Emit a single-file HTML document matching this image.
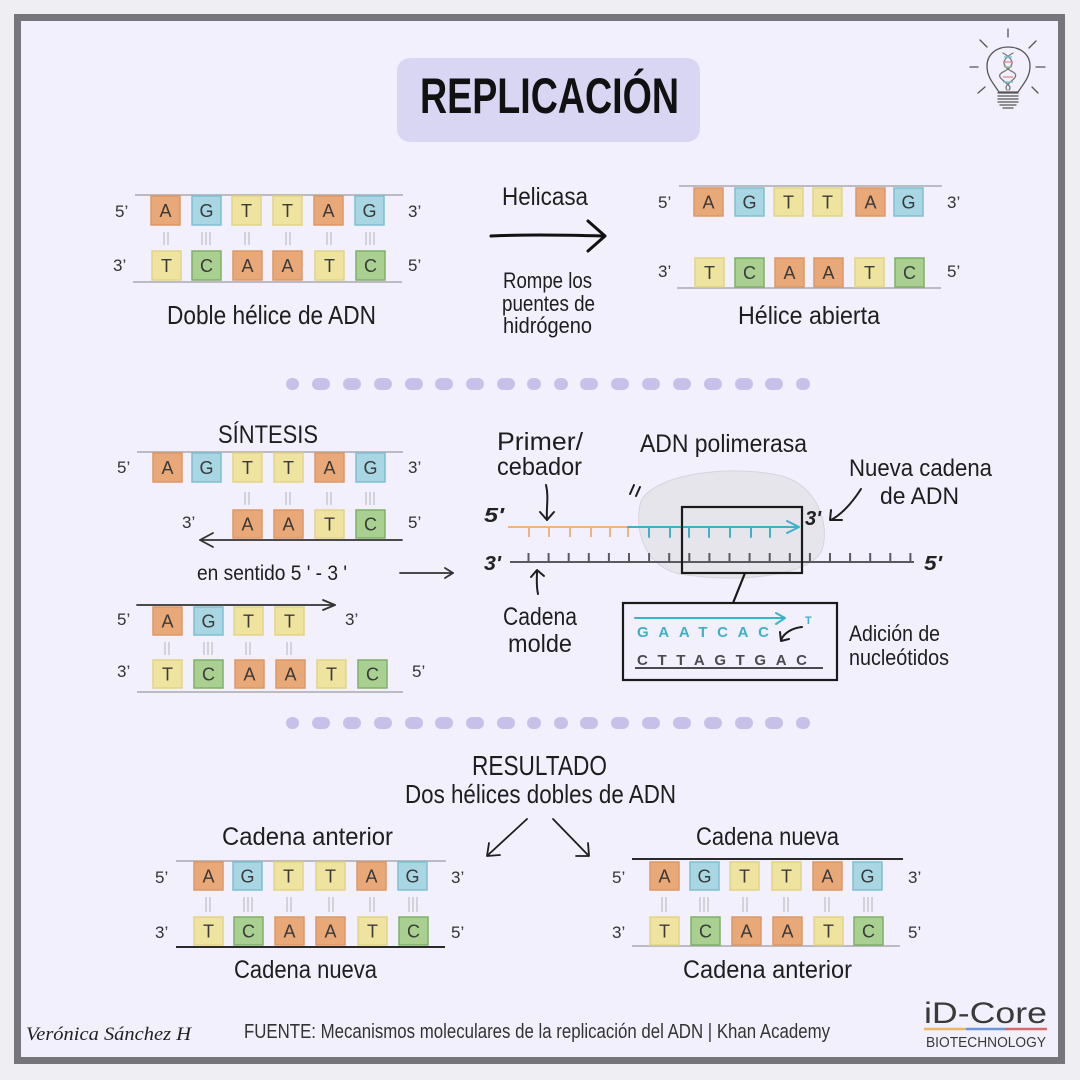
<!DOCTYPE html>
<html><head><meta charset="utf-8"><style>
html,body{margin:0;padding:0;background:#efeef3;}
svg{display:block;}
.A{fill:#e9a878;stroke:#dc9766;stroke-width:1.5}
.G{fill:#a9d6e3;stroke:#7dbfd2;stroke-width:1.5}
.T{fill:#eee39f;stroke:#e2d486;stroke-width:1.5}
.C{fill:#a9cf91;stroke:#80b067;stroke-width:1.5}
.bl{font-family:"Liberation Sans",sans-serif;font-size:18px;fill:#3a3a3a;text-anchor:middle}
.lb{font-family:"Liberation Sans",sans-serif;font-size:17px;fill:#333}
.hw{font-family:"Liberation Sans",sans-serif;fill:#1e1e1e}
.bond{stroke:#c9c8cd;stroke-width:1.5}
.sep{fill:#c7c1ea}
</style></head><body>
<svg width="1080" height="1080" viewBox="0 0 1080 1080" xmlns="http://www.w3.org/2000/svg">
<rect x="0" y="0" width="1080" height="1080" fill="#efeef3"/>
<rect x="17.5" y="17.5" width="1044" height="1043" fill="#f2f0fc" stroke="#76757b" stroke-width="7"/>

<!-- Title -->
<rect x="397" y="58" width="303" height="84" rx="13" fill="#d9d6f3"/>
<text x="420" y="113" font-family="Liberation Sans,sans-serif" font-weight="bold" font-size="50" fill="#111" textLength="259" lengthAdjust="spacingAndGlyphs">REPLICACIÓN</text>

<!-- Lightbulb -->
<g stroke="#555" stroke-width="1.3" fill="none" stroke-linecap="round">
<line x1="1008" y1="29" x2="1008" y2="37"/>
<line x1="970" y1="67" x2="978" y2="67"/>
<line x1="1036" y1="67" x2="1045" y2="67"/>
<line x1="980" y1="40" x2="987" y2="47"/>
<line x1="1036" y1="41" x2="1029" y2="48"/>
<line x1="978" y1="93" x2="985" y2="87"/>
<line x1="1032" y1="87" x2="1038" y2="93"/>
<path d="M999 92 C993 83 987 77 987 66 C987 54 997 47 1008 47 C1020 47 1030 54 1030 66 C1030 77 1024 83 1018 92 Z"/>
<path d="M998 93 H1018 M998 96 H1018 M998 99 H1018 M998 102 H1018 M1000 105 H1016 M1003 108 H1013"/>
<path d="M1003 53 C1015 60 1015 66 1003 72 C991 78 1015 84 1009 90" stroke="#777"/>
<path d="M1013 53 C1001 60 1001 66 1013 72 C1023 78 1001 84 1007 90" stroke="#777"/>
</g>
<g stroke-width="1.3">
<line x1="1004" y1="57" x2="1012" y2="57" stroke="#6cc0c8"/>
<line x1="1003" y1="62" x2="1013" y2="62" stroke="#e08a8a"/>
<line x1="1004" y1="67" x2="1012" y2="67" stroke="#8cc68a"/>
<line x1="1003" y1="77" x2="1013" y2="77" stroke="#e08a8a"/>
<line x1="1003" y1="82" x2="1013" y2="82" stroke="#6cc0c8"/>
</g>

<!-- Block 1: Doble hélice -->
<line x1="135" y1="195" x2="403" y2="195" stroke="#a9a8ae" stroke-width="1.5"/>
<line x1="133" y1="282" x2="402" y2="282" stroke="#a9a8ae" stroke-width="1.5"/>
<rect class="A" x="151" y="196" width="29" height="29"/><text class="bl" x="165.5" y="217">A</text>
<rect class="G" x="192" y="196" width="29" height="29"/><text class="bl" x="206.5" y="217">G</text>
<rect class="T" x="232" y="196" width="29" height="29"/><text class="bl" x="246.5" y="217">T</text>
<rect class="T" x="273" y="196" width="29" height="29"/><text class="bl" x="287.5" y="217">T</text>
<rect class="A" x="314" y="196" width="29" height="29"/><text class="bl" x="328.5" y="217">A</text>
<rect class="G" x="355" y="196" width="29" height="29"/><text class="bl" x="369.5" y="217">G</text>
<rect class="T" x="152" y="251" width="29" height="29"/><text class="bl" x="166.5" y="272">T</text>
<rect class="C" x="192" y="251" width="29" height="29"/><text class="bl" x="206.5" y="272">C</text>
<rect class="A" x="233" y="251" width="29" height="29"/><text class="bl" x="247.5" y="272">A</text>
<rect class="A" x="273" y="251" width="29" height="29"/><text class="bl" x="287.5" y="272">A</text>
<rect class="T" x="315" y="251" width="29" height="29"/><text class="bl" x="329.5" y="272">T</text>
<rect class="C" x="356" y="251" width="29" height="29"/><text class="bl" x="370.5" y="272">C</text>
<path class="bond" d="M164 232V245M168 232V245 M202 232V245M206 232V245M210 232V245 M245 232V245M249 232V245 M286 232V245M290 232V245 M327 232V245M331 232V245 M366 232V245M370 232V245M374 232V245"/>
<text class="lb" x="115" y="217">5’</text><text class="lb" x="408" y="217">3’</text>
<text class="lb" x="113" y="271">3’</text><text class="lb" x="408" y="271">5’</text>
<text class="hw" x="167" y="324" font-size="26" textLength="209" lengthAdjust="spacingAndGlyphs">Doble hélice de ADN</text>

<!-- Helicasa -->
<text class="hw" x="502" y="205" font-size="25" textLength="86" lengthAdjust="spacingAndGlyphs">Helicasa</text>
<path d="M491 236 C530 234 570 235 604 236" stroke="#111" stroke-width="3" fill="none" stroke-linecap="round"/>
<path d="M588 221 L605 236 L588 251" stroke="#111" stroke-width="3" fill="none" stroke-linecap="round" stroke-linejoin="round"/>
<text class="hw" x="503" y="288" font-size="22" textLength="89" lengthAdjust="spacingAndGlyphs">Rompe los</text>
<text class="hw" x="502" y="311" font-size="22" textLength="93" lengthAdjust="spacingAndGlyphs">puentes de</text>
<text class="hw" x="503" y="333" font-size="22" textLength="89" lengthAdjust="spacingAndGlyphs">hidrógeno</text>

<!-- Block 2: Hélice abierta -->
<line x1="679" y1="186" x2="942" y2="186" stroke="#a9a8ae" stroke-width="1.5"/>
<line x1="677" y1="288" x2="941" y2="288" stroke="#a9a8ae" stroke-width="1.5"/>
<rect class="A" x="694" y="188" width="29" height="28"/><text class="bl" x="708.5" y="208.5">A</text>
<rect class="G" x="735" y="188" width="29" height="28"/><text class="bl" x="749.5" y="208.5">G</text>
<rect class="T" x="774" y="188" width="29" height="28"/><text class="bl" x="788.5" y="208.5">T</text>
<rect class="T" x="813" y="188" width="29" height="28"/><text class="bl" x="827.5" y="208.5">T</text>
<rect class="A" x="856" y="188" width="29" height="28"/><text class="bl" x="870.5" y="208.5">A</text>
<rect class="G" x="894" y="188" width="29" height="28"/><text class="bl" x="908.5" y="208.5">G</text>
<rect class="T" x="695" y="258" width="29" height="29"/><text class="bl" x="709.5" y="279">T</text>
<rect class="C" x="735" y="258" width="29" height="29"/><text class="bl" x="749.5" y="279">C</text>
<rect class="A" x="775" y="258" width="29" height="29"/><text class="bl" x="789.5" y="279">A</text>
<rect class="A" x="814" y="258" width="29" height="29"/><text class="bl" x="828.5" y="279">A</text>
<rect class="T" x="855" y="258" width="29" height="29"/><text class="bl" x="869.5" y="279">T</text>
<rect class="C" x="895" y="258" width="29" height="29"/><text class="bl" x="909.5" y="279">C</text>
<text class="lb" x="658" y="208">5’</text><text class="lb" x="947" y="208">3’</text>
<text class="lb" x="658" y="277">3’</text><text class="lb" x="947" y="277">5’</text>
<text class="hw" x="738" y="324" font-size="25" textLength="142" lengthAdjust="spacingAndGlyphs">Hélice abierta</text>

<!-- Separator 1 -->
<g class="sep">
<rect x="286" y="378" width="13" height="12" rx="6"/>
<rect x="312" y="378" width="18" height="12" rx="6"/>
<rect x="343" y="378" width="18" height="12" rx="6"/>
<rect x="374" y="378" width="18" height="12" rx="6"/>
<rect x="405" y="378" width="18" height="12" rx="6"/>
<rect x="435" y="378" width="18" height="12" rx="6"/>
<rect x="466" y="378" width="18" height="12" rx="6"/>
<rect x="497" y="378" width="18" height="12" rx="6"/>
<rect x="527" y="378" width="14" height="12" rx="6"/>
<rect x="554" y="378" width="14" height="12" rx="6"/>
<rect x="580" y="378" width="18" height="12" rx="6"/>
<rect x="611" y="378" width="18" height="12" rx="6"/>
<rect x="642" y="378" width="18" height="12" rx="6"/>
<rect x="673" y="378" width="18" height="12" rx="6"/>
<rect x="704" y="378" width="18" height="12" rx="6"/>
<rect x="735" y="378" width="18" height="12" rx="6"/>
<rect x="765" y="378" width="18" height="12" rx="6"/>
<rect x="796" y="378" width="14" height="12" rx="6"/>
</g>

<!-- Síntesis -->
<text class="hw" x="218" y="443" font-size="25" textLength="100" lengthAdjust="spacingAndGlyphs">SÍNTESIS</text>
<line x1="137" y1="452" x2="403" y2="452" stroke="#a9a8ae" stroke-width="1.5"/>
<rect class="A" x="153" y="453" width="29" height="29"/><text class="bl" x="167.5" y="474">A</text>
<rect class="G" x="192" y="453" width="29" height="29"/><text class="bl" x="206.5" y="474">G</text>
<rect class="T" x="233" y="453" width="29" height="29"/><text class="bl" x="247.5" y="474">T</text>
<rect class="T" x="274" y="453" width="29" height="29"/><text class="bl" x="288.5" y="474">T</text>
<rect class="A" x="315" y="453" width="29" height="29"/><text class="bl" x="329.5" y="474">A</text>
<rect class="G" x="356" y="453" width="29" height="29"/><text class="bl" x="370.5" y="474">G</text>
<text class="lb" x="117" y="473">5’</text><text class="lb" x="408" y="473">3’</text>
<path class="bond" d="M245 492V505M249 492V505 M286 492V505M290 492V505 M327 492V505M331 492V505 M366 492V505M370 492V505M374 492V505"/>
<rect class="A" x="233" y="510" width="29" height="28"/><text class="bl" x="247.5" y="530.5">A</text>
<rect class="A" x="274" y="510" width="29" height="28"/><text class="bl" x="288.5" y="530.5">A</text>
<rect class="T" x="315" y="510" width="29" height="28"/><text class="bl" x="329.5" y="530.5">T</text>
<rect class="C" x="356" y="510" width="29" height="28"/><text class="bl" x="370.5" y="530.5">C</text>
<text class="lb" x="182" y="528">3’</text><text class="lb" x="408" y="528">5’</text>
<g stroke="#333" stroke-width="1.8" fill="none" stroke-linecap="round" stroke-linejoin="round">
<line x1="200" y1="540" x2="402" y2="540"/>
<path d="M213 533 L200 540 L213 547"/>
<line x1="400" y1="573" x2="453" y2="573"/>
<path d="M445 568 L453 573 L445 578"/>
<line x1="137" y1="605" x2="335" y2="605"/>
<path d="M323 600 L335 605 L323 610"/>
</g>
<text class="hw" x="197" y="580" font-size="21" textLength="150" lengthAdjust="spacingAndGlyphs">en sentido 5 ' - 3 '</text>
<rect class="A" x="153" y="607" width="29" height="28"/><text class="bl" x="167.5" y="627.5">A</text>
<rect class="G" x="194" y="607" width="29" height="28"/><text class="bl" x="208.5" y="627.5">G</text>
<rect class="T" x="234" y="607" width="29" height="28"/><text class="bl" x="248.5" y="627.5">T</text>
<rect class="T" x="275" y="607" width="29" height="28"/><text class="bl" x="289.5" y="627.5">T</text>
<text class="lb" x="117" y="625">5’</text><text class="lb" x="345" y="625">3’</text>
<path class="bond" d="M165 642V655M169 642V655 M204 642V655M208 642V655M212 642V655 M246 642V655M250 642V655 M287 642V655M291 642V655"/>
<rect class="T" x="153" y="660" width="29" height="28"/><text class="bl" x="167.5" y="680.5">T</text>
<rect class="C" x="194" y="660" width="29" height="28"/><text class="bl" x="208.5" y="680.5">C</text>
<rect class="A" x="235" y="660" width="29" height="28"/><text class="bl" x="249.5" y="680.5">A</text>
<rect class="A" x="276" y="660" width="29" height="28"/><text class="bl" x="290.5" y="680.5">A</text>
<rect class="T" x="317" y="660" width="29" height="28"/><text class="bl" x="331.5" y="680.5">T</text>
<rect class="C" x="358" y="660" width="29" height="28"/><text class="bl" x="372.5" y="680.5">C</text>
<text class="lb" x="117" y="677">3’</text><text class="lb" x="412" y="677">5’</text>
<line x1="137" y1="692" x2="403" y2="692" stroke="#a9a8ae" stroke-width="1.5"/>

<!-- Polymerase diagram -->
<path d="M640 505 C645 478 720 462 782 476 C818 486 830 525 822 550 C812 575 740 584 680 574 C648 568 634 535 640 505 Z" fill="#e6e5ec" stroke="#d6d5dd" stroke-width="1"/>
<text class="hw" x="497" y="450" font-size="25" textLength="86" lengthAdjust="spacingAndGlyphs">Primer/</text>
<text class="hw" x="497" y="475" font-size="25" textLength="85" lengthAdjust="spacingAndGlyphs">cebador</text>
<text class="hw" x="640" y="452" font-size="25" textLength="167" lengthAdjust="spacingAndGlyphs">ADN polimerasa</text>
<text class="hw" x="849" y="476" font-size="24" textLength="143" lengthAdjust="spacingAndGlyphs">Nueva cadena</text>
<text class="hw" x="880" y="504" font-size="24" textLength="79" lengthAdjust="spacingAndGlyphs">de ADN</text>
<g stroke="#1e1e1e" stroke-width="2" fill="none" stroke-linecap="round" stroke-linejoin="round">
<path d="M546 485 C549 497 546 509 547 520"/>
<path d="M540 512 L547 520 L554 512"/>
<path d="M861 489 C852 503 842 514 831 520"/>
<path d="M831 510 L830 520 L842 520"/>
<path d="M538 594 C536 585 537 578 537 571"/>
<path d="M531 577 L537 570 L544 576"/>
<path d="M630 494 L634 485 M636 496 L640 487"/>
</g>
<text x="484" y="522" font-family="Liberation Sans,sans-serif" font-style="italic" font-weight="bold" font-size="20" fill="#222" textLength="20" lengthAdjust="spacingAndGlyphs">5'</text>
<text x="805" y="525" font-family="Liberation Sans,sans-serif" font-style="italic" font-weight="bold" font-size="20" fill="#222" textLength="16" lengthAdjust="spacingAndGlyphs">3'</text>
<text x="484" y="570" font-family="Liberation Sans,sans-serif" font-style="italic" font-weight="bold" font-size="20" fill="#222" textLength="17" lengthAdjust="spacingAndGlyphs">3'</text>
<text x="924" y="570" font-family="Liberation Sans,sans-serif" font-style="italic" font-weight="bold" font-size="20" fill="#222" textLength="18" lengthAdjust="spacingAndGlyphs">5'</text>
<g stroke="#f0b47e" stroke-width="2">
<line x1="508" y1="527" x2="628" y2="527"/>
<path d="M529 527V537 M549 527V537 M570 527V537 M591 527V537 M610 527V537 M628 527V537"/>
</g>
<g stroke="#3cb1c9" stroke-width="2" fill="none" stroke-linecap="round" stroke-linejoin="round">
<line x1="628" y1="527" x2="798" y2="527"/>
<path d="M649 527V537 M670 527V537 M689 527V537 M709 527V537 M730 527V537 M751 527V537 M770 527V537"/>
<path d="M787 521 L799 527 L787 533"/>
</g>
<g stroke="#5a595f" stroke-width="2">
<line x1="510" y1="562" x2="914" y2="562"/>
<path d="M528.5 553V562 M548.6 553V562 M568.7 553V562 M588.8 553V562 M608.9 553V562 M629 553V562 M649.1 553V562 M669.2 553V562 M689.3 553V562 M709.4 553V562 M729.5 553V562 M749.6 553V562 M769.7 553V562 M789.8 553V562 M809.9 553V562 M830 553V562 M850.1 553V562 M870.2 553V562 M890.3 553V562 M910.4 553V562"/>
</g>
<rect x="682" y="507" width="120" height="66" fill="none" stroke="#1a1a1a" stroke-width="2.2"/>
<line x1="745" y1="573" x2="733" y2="603" stroke="#1a1a1a" stroke-width="2.2"/>
<rect x="623" y="603" width="214" height="77" fill="none" stroke="#1a1a1a" stroke-width="2.2"/>
<g stroke="#3cb1c9" stroke-width="2" fill="none" stroke-linecap="round" stroke-linejoin="round">
<line x1="635" y1="618" x2="784" y2="618"/>
<path d="M776 613 L785 618 L776 624"/>
</g>
<text x="637" y="637" font-family="Liberation Sans,sans-serif" font-weight="bold" font-size="15" fill="#3cb1c9" textLength="132" lengthAdjust="spacing">GAATCAC</text>
<text x="805" y="624" font-family="Liberation Sans,sans-serif" font-weight="bold" font-size="11" fill="#3cb1c9">T</text>
<g stroke="#1e1e1e" stroke-width="2" fill="none" stroke-linecap="round" stroke-linejoin="round">
<path d="M802 627 C792 628 784 633 781 640"/>
<path d="M780 632 L781 641 L789 639"/>
</g>
<text x="637" y="665" font-family="Liberation Sans,sans-serif" font-weight="bold" font-size="15" fill="#4a4a4f" textLength="170" lengthAdjust="spacing">CTTAGTGAC</text>
<line x1="635" y1="668" x2="823" y2="668" stroke="#4a4a4f" stroke-width="2"/>
<text class="hw" x="849" y="641" font-size="22" textLength="91" lengthAdjust="spacingAndGlyphs">Adición de</text>
<text class="hw" x="849" y="665" font-size="22" textLength="100" lengthAdjust="spacingAndGlyphs">nucleótidos</text>
<text class="hw" x="503" y="625" font-size="25" textLength="74" lengthAdjust="spacingAndGlyphs">Cadena</text>
<text class="hw" x="508" y="652" font-size="25" textLength="64" lengthAdjust="spacingAndGlyphs">molde</text>

<!-- Separator 2 -->
<g class="sep">
<rect x="286" y="717" width="13" height="12" rx="6"/>
<rect x="312" y="717" width="18" height="12" rx="6"/>
<rect x="343" y="717" width="18" height="12" rx="6"/>
<rect x="374" y="717" width="18" height="12" rx="6"/>
<rect x="405" y="717" width="18" height="12" rx="6"/>
<rect x="435" y="717" width="18" height="12" rx="6"/>
<rect x="466" y="717" width="18" height="12" rx="6"/>
<rect x="497" y="717" width="18" height="12" rx="6"/>
<rect x="527" y="717" width="14" height="12" rx="6"/>
<rect x="554" y="717" width="14" height="12" rx="6"/>
<rect x="580" y="717" width="18" height="12" rx="6"/>
<rect x="611" y="717" width="18" height="12" rx="6"/>
<rect x="642" y="717" width="18" height="12" rx="6"/>
<rect x="673" y="717" width="18" height="12" rx="6"/>
<rect x="704" y="717" width="18" height="12" rx="6"/>
<rect x="735" y="717" width="18" height="12" rx="6"/>
<rect x="765" y="717" width="18" height="12" rx="6"/>
<rect x="796" y="717" width="14" height="12" rx="6"/>
</g>

<!-- Resultado -->
<text class="hw" x="472" y="775" font-size="28" textLength="135" lengthAdjust="spacingAndGlyphs">RESULTADO</text>
<text class="hw" x="405" y="803" font-size="26" textLength="271" lengthAdjust="spacingAndGlyphs">Dos hélices dobles de ADN</text>
<g stroke="#1e1e1e" stroke-width="1.8" fill="none" stroke-linecap="round" stroke-linejoin="round">
<line x1="527" y1="819" x2="488" y2="855"/>
<path d="M489 843 L487 856 L500 855"/>
<line x1="553" y1="819" x2="588" y2="855"/>
<path d="M588 843 L589 856 L576 856"/>
</g>
<text class="hw" x="222" y="845" font-size="25" textLength="171" lengthAdjust="spacingAndGlyphs">Cadena anterior</text>
<text class="hw" x="696" y="845" font-size="25" textLength="143" lengthAdjust="spacingAndGlyphs">Cadena nueva</text>
<text class="hw" x="234" y="978" font-size="25" textLength="143" lengthAdjust="spacingAndGlyphs">Cadena nueva</text>
<text class="hw" x="683" y="978" font-size="25" textLength="169" lengthAdjust="spacingAndGlyphs">Cadena anterior</text>

<!-- Block 4 -->
<line x1="176" y1="861" x2="446" y2="861" stroke="#a9a8ae" stroke-width="1.5"/>
<line x1="176" y1="947" x2="445" y2="947" stroke="#2a2a2a" stroke-width="2"/>
<rect class="A" x="194" y="862" width="29" height="28"/><text class="bl" x="208.5" y="882.5">A</text>
<rect class="G" x="233" y="862" width="29" height="28"/><text class="bl" x="247.5" y="882.5">G</text>
<rect class="T" x="274" y="862" width="29" height="28"/><text class="bl" x="288.5" y="882.5">T</text>
<rect class="T" x="316" y="862" width="29" height="28"/><text class="bl" x="330.5" y="882.5">T</text>
<rect class="A" x="357" y="862" width="29" height="28"/><text class="bl" x="371.5" y="882.5">A</text>
<rect class="G" x="398" y="862" width="29" height="28"/><text class="bl" x="412.5" y="882.5">G</text>
<path class="bond" d="M206 897V912M210 897V912 M244 897V912M248 897V912M252 897V912 M287 897V912M291 897V912 M329 897V912M333 897V912 M370 897V912M374 897V912 M409 897V912M413 897V912M417 897V912"/>
<rect class="T" x="194" y="917" width="29" height="28"/><text class="bl" x="208.5" y="937.5">T</text>
<rect class="C" x="234" y="917" width="29" height="28"/><text class="bl" x="248.5" y="937.5">C</text>
<rect class="A" x="275" y="917" width="29" height="28"/><text class="bl" x="289.5" y="937.5">A</text>
<rect class="A" x="316" y="917" width="29" height="28"/><text class="bl" x="330.5" y="937.5">A</text>
<rect class="T" x="358" y="917" width="29" height="28"/><text class="bl" x="372.5" y="937.5">T</text>
<rect class="C" x="399" y="917" width="29" height="28"/><text class="bl" x="413.5" y="937.5">C</text>
<text class="lb" x="155" y="883">5’</text><text class="lb" x="451" y="883">3’</text>
<text class="lb" x="155" y="938">3’</text><text class="lb" x="451" y="938">5’</text>

<!-- Block 5 -->
<line x1="632" y1="859" x2="903" y2="859" stroke="#2a2a2a" stroke-width="2"/>
<line x1="632" y1="946" x2="900" y2="946" stroke="#a9a8ae" stroke-width="1.5"/>
<rect class="A" x="650" y="862" width="29" height="28"/><text class="bl" x="664.5" y="882.5">A</text>
<rect class="G" x="690" y="862" width="29" height="28"/><text class="bl" x="704.5" y="882.5">G</text>
<rect class="T" x="730" y="862" width="29" height="28"/><text class="bl" x="744.5" y="882.5">T</text>
<rect class="T" x="772" y="862" width="29" height="28"/><text class="bl" x="786.5" y="882.5">T</text>
<rect class="A" x="813" y="862" width="29" height="28"/><text class="bl" x="827.5" y="882.5">A</text>
<rect class="G" x="853" y="862" width="29" height="28"/><text class="bl" x="867.5" y="882.5">G</text>
<path class="bond" d="M662 897V912M666 897V912 M700 897V912M704 897V912M708 897V912 M743 897V912M747 897V912 M784 897V912M788 897V912 M825 897V912M829 897V912 M864 897V912M868 897V912M872 897V912"/>
<rect class="T" x="650" y="917" width="29" height="28"/><text class="bl" x="664.5" y="937.5">T</text>
<rect class="C" x="691" y="917" width="29" height="28"/><text class="bl" x="705.5" y="937.5">C</text>
<rect class="A" x="732" y="917" width="29" height="28"/><text class="bl" x="746.5" y="937.5">A</text>
<rect class="A" x="773" y="917" width="29" height="28"/><text class="bl" x="787.5" y="937.5">A</text>
<rect class="T" x="814" y="917" width="29" height="28"/><text class="bl" x="828.5" y="937.5">T</text>
<rect class="C" x="854" y="917" width="29" height="28"/><text class="bl" x="868.5" y="937.5">C</text>
<text class="lb" x="612" y="883">5’</text><text class="lb" x="908" y="883">3’</text>
<text class="lb" x="612" y="938">3’</text><text class="lb" x="908" y="938">5’</text>

<!-- Footer -->
<text x="26" y="1040" font-family="Liberation Serif,serif" font-style="italic" font-size="19" fill="#222" textLength="165" lengthAdjust="spacingAndGlyphs">Verónica Sánchez H</text>
<text x="244" y="1038" font-family="Liberation Sans,sans-serif" font-size="20" fill="#333" textLength="586" lengthAdjust="spacingAndGlyphs">FUENTE: Mecanismos moleculares de la replicación del ADN | Khan Academy</text>
<text x="924" y="1023" font-family="Liberation Sans,sans-serif" font-size="30" fill="#3a3a3a" textLength="123" lengthAdjust="spacingAndGlyphs">iD-Core</text>
<line x1="924" y1="1029" x2="966" y2="1029" stroke="#e9b866" stroke-width="2.5"/>
<line x1="966" y1="1029" x2="1005" y2="1029" stroke="#6f96d6" stroke-width="2.5"/>
<line x1="1005" y1="1029" x2="1047" y2="1029" stroke="#d56c6c" stroke-width="2.5"/>
<text x="926" y="1047" font-family="Liberation Sans,sans-serif" font-size="15" fill="#3a3a3a" textLength="120" lengthAdjust="spacingAndGlyphs">BIOTECHNOLOGY</text>
</svg>
</body></html>
